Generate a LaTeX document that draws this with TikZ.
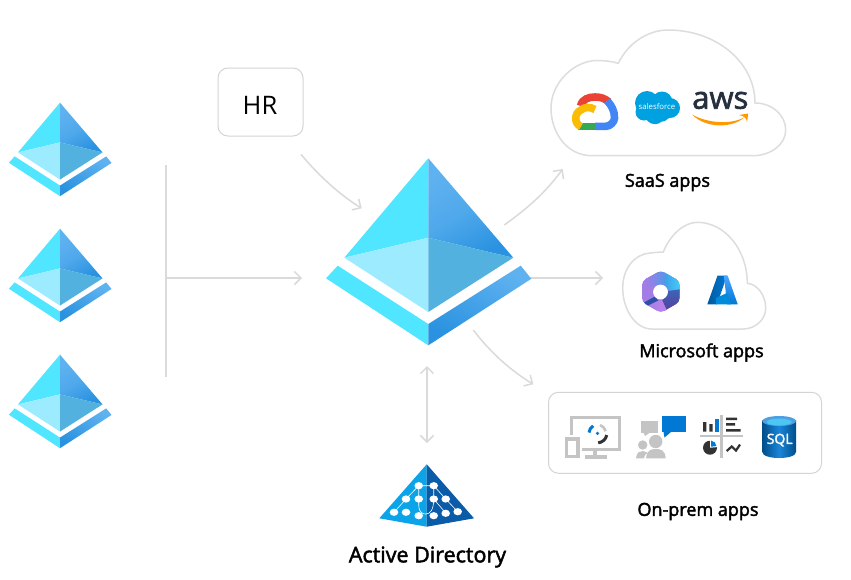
\documentclass[tikz,border=0pt]{standalone}
\usepackage{fontspec}
\setmainfont{Open Sans}
\newfontfamily\semi{Open Sans}[FakeBold=2.2]
\newfontfamily\awsfont{Open Sans}[FakeBold=2]
\usetikzlibrary{arrows.meta}
\definecolor{flow}{HTML}{DADADA}
\definecolor{edge}{HTML}{D4D4D4}
\definecolor{pyrA}{HTML}{50E6FF}
\definecolor{pyrB}{HTML}{9CEBFF}
\definecolor{pyrC}{HTML}{53B1E0}
\definecolor{pyrD}{HTML}{5FB2F0}
\definecolor{pyrE}{HTML}{2A92E0}
\definecolor{icongray}{HTML}{C4C4C4}
\definecolor{msblue}{HTML}{0078D4}
\definecolor{inkdark}{HTML}{333333}
\definecolor{gred}{HTML}{EA4335}
\definecolor{gblue}{HTML}{4285F4}
\definecolor{ggreen}{HTML}{34A853}
\definecolor{gyellow}{HTML}{FBBC05}
\definecolor{sfblue}{HTML}{00A1E0}
\definecolor{awsdark}{HTML}{252F3E}
\definecolor{awsorange}{HTML}{FF9900}
\definecolor{adleft}{HTML}{0CA4E8}
\definecolor{adright}{HTML}{0B5CA8}
\definecolor{lilac}{HTML}{A37CE6}
\definecolor{lilacB}{HTML}{C084EC}
\definecolor{violet}{HTML}{6F7BE0}
\definecolor{skyA}{HTML}{3C9FE8}
\definecolor{skyB}{HTML}{48D0F8}
\definecolor{plumA}{HTML}{3E62B8}
\definecolor{plumB}{HTML}{5B3A94}
\definecolor{bandblue}{HTML}{2C4FA8}
\tikzset{
  flowline/.style={draw=flow,line width=1.5pt},
  flowarrow/.style={flowline,-{Straight Barb[length=6.5pt,width=13pt]}},
  flowboth/.style={flowline,{Straight Barb[length=6.5pt,width=13pt]}-{Straight Barb[length=6.5pt,width=13pt]}},
  cloudline/.style={draw=edge!80,line width=1.5pt,fill=white},
  caption/.style={font=\semi\fontsize{18}{20}\selectfont,text=black,inner sep=0pt},
  rbox/.style={draw=edge,line width=1pt,rounded corners=10pt,fill=white,inner sep=0pt},
  gstroke/.style={line width=7.6pt},
}
\newcommand{\pyramid}[3]{%
  \begin{scope}[shift={(#1,#2)},scale=#3]
    \fill[pyrA] (0,0) -- (-84,99.4) -- (0,79.4) -- cycle;
    \shade[bottom color=pyrE,top color=pyrD,middle color=pyrD!70!pyrE,shading angle=30] (0,0) -- (85,99.4) -- (0,79.4) -- cycle;
    \fill[pyrB] (-84,99.4) -- (0,79.4) -- (0,153.7) -- cycle;
    \fill[pyrC] (85,99.4) -- (0,79.4) -- (0,153.7) -- cycle;
    \fill[pyrA] (-102.3,120) -- (-90.6,107.4) -- (0,165.7) -- (0,187) -- cycle;
    \shade[bottom color=pyrE,top color=pyrD,shading angle=-30] (103,120.5) -- (92.4,107.4) -- (0,165.7) -- (0,187) -- cycle;
  \end{scope}}
\begin{document}
\begin{tikzpicture}[x=1pt,y=-1pt]
\useasboundingbox (0,0) rectangle (851,579);
\fill[white] (0,0) rectangle (851,579);

% connector ends
\coordinate (busTop) at (166,165);
\coordinate (busBot) at (166,377);
\coordinate (busMid) at (166,278);
\coordinate (idIn) at (302,278);
\coordinate (hrOut) at (301,154.3);
\coordinate (idHr) at (361.7,208.3);
\coordinate (idSaas) at (504.3,225);
\coordinate (saasIn) at (562.7,169);
\coordinate (idMs) at (529.3,278);
\coordinate (msIn) at (603,278);
\coordinate (idPrem) at (473.3,330);
\coordinate (premIn) at (533.3,384.3);
\coordinate (idAd) at (427,366);
\coordinate (adIn) at (427,443);

% connectors
\draw[flowline] (busTop) -- (busBot);
\draw[flowarrow] (busMid) -- (idIn);
\draw[flowarrow] (hrOut) .. controls (318,175) and (340,195) .. (idHr);
\draw[flowarrow] (idSaas) .. controls (528,208) and (546,192) .. (saasIn);
\draw[flowarrow] (idMs) -- (msIn);
\draw[flowarrow] (idPrem) .. controls (490,352) and (510,370) .. (premIn);
\draw[flowboth] (idAd) -- (adIn);

% identity pyramids
\pyramid{60}{102.7}{0.5}
\pyramid{60}{228.7}{0.5}
\pyramid{60}{354.7}{0.5}
\pyramid{428.3}{158.3}{1}

% HR
\node[rbox,minimum width=85pt,minimum height=68pt] (hrbox) at (260.5,102) {};
\node[font=\fontsize{25.5}{28}\selectfont,inner sep=0pt] (hr) at (260,105.5) {HR};

% SaaS cloud
\draw[cloudline] (592,155.7) .. controls (567,155.7) and (551,133) .. (551,108)
  .. controls (551,82) and (575,60.5) .. (597,60.5) .. controls (605,60.5) and (612,61.5) .. (618.3,63.3)
  .. controls (628,43) and (648,30) .. (668,30) .. controls (716,30) and (755,62) .. (755,103)
  .. controls (772,103) and (785.7,115) .. (785.7,130) .. controls (785.7,145) and (770,155.7) .. (753,155.7) -- cycle;

% Google Cloud
\draw[gstroke,color=gred] (580.5,106) .. controls (582,99) and (589,97) .. (595,97) .. controls (601,97) and (605,98.5) .. (609,102);
\draw[gstroke,color=gblue] (607,100.5) .. controls (612,106) and (614.5,111) .. (614.5,118) .. controls (614.5,122) and (610,126.3) .. (606,126.3) -- (595,126.3);
\fill[ggreen] (578,122.5) rectangle (595,130);
\draw[gstroke,color=gyellow] (595,109.5) .. controls (590,106.5) and (584,107) .. (581,110) .. controls (574,113) and (574,124) .. (581,126.5);

% Salesforce
\fill[sfblue] (647,103) circle (12) (662,102) circle (10.5) (670,108) circle (10) (655,114) circle (10.2) (644,112) circle (8.5) (660,110) circle (12);
\node[font=\fontsize{7.8}{8}\selectfont,text=white,inner sep=0pt] (sf) at (657,106.5) {salesforce};

% AWS
\node[font=\awsfont\fontsize{31}{34}\selectfont,text=awsdark,inner sep=0pt,anchor=base] (aws) at (720.3,108.7) {aws};
\fill[awsorange] (692,114.5) .. controls (707,123) and (730,125) .. (744,117.5) .. controls (733,128) and (706,129) .. (692,114.5) -- cycle;
\fill[awsorange] (739,115) -- (748.3,113.5) -- (747,122) .. controls (746.5,118) and (744,116) .. (739,115) -- cycle;

\node[caption] (saas) at (667.5,182.5) {SaaS apps};

% Microsoft cloud
\draw[cloudline] (652,329) .. controls (635,329) and (622.7,309) .. (622.7,288)
  .. controls (622.7,268) and (635,254) .. (650,253) .. controls (655,252.5) and (660,252) .. (663.3,252)
  .. controls (670,235) and (684,222.3) .. (697.3,222.3) .. controls (725,222.3) and (747.3,250) .. (747.3,283.3)
  .. controls (757,284) and (765.7,295) .. (765.7,308) .. controls (765.7,320) and (755,329) .. (743,329) -- cycle;

% Microsoft 365
\begin{scope}
  \clip[rounded corners=4pt] (660.8,270.5) -- (679.6,281) -- (679.6,302) -- (660.8,312.8) -- (642,302) -- (642,281) -- cycle;
  \fill[lilac] (640,268) rectangle (682,315);
  \shade[left color=lilac,right color=skyA] (645,268) -- (672,268) -- (670,284) -- (652,286) -- (645,290) -- cycle;
  \shade[left color=skyA,right color=skyB] (668,268) -- (682,268) -- (682,294) -- (668,290) -- (664,282) -- cycle;
  \shade[top color=plumA,bottom color=plumB] (682,289) -- (682,306) -- (664,316) -- (662,301) -- (668,291) -- cycle;
  \shade[left color=lilac,right color=lilacB] (643,306) -- (662,300) -- (669,315) -- (648,316) -- cycle;
  \fill[bandblue] (643,303) -- (655,296.5) -- (658,300.5) -- (647,306) -- cycle;
\end{scope}
\fill[white] (660.5,292) circle (7.4);

% Azure
\shade[left color=msblue!75!black,right color=msblue] (717.5,275.7) -- (727,275.7) -- (717,304.3) -- (707.3,304.3) -- cycle;
\shade[bottom color=msblue,top color=cyan!50!blue!70] (724,275.7) -- (727.7,275.7) -- (737.7,304.3) -- (727,304.3) -- cycle;
\fill[msblue!85!cyan] (716,298) -- (727,293) -- (731,304.3) -- (716,304.3) -- cycle;

\node[caption] (ms) at (701.5,352.5) {Microsoft apps};

% On-prem box
\node[rbox,minimum width=273pt,minimum height=81pt] (prem) at (685,432.8) {};

% monitor icon
\draw[icongray,line width=3.3pt] (571.7,435) -- (571.7,417.3) -- (619.3,417.3) -- (619.3,449.3) -- (582,449.3);
\draw[icongray,line width=3.3pt] (595,449.3) -- (595,457) (585,457) -- (606.7,457);
\draw[icongray,line width=3.3pt] (566.5,439) rectangle (578,456.5);
\draw[msblue,line width=3pt] (589,432.5) arc (-175:-120:8.5);
\draw[inkdark,line width=3pt] (606.7,435) arc (10:85:9.5);
\draw[icongray,line width=2.6pt] (600,425) arc (-70:-15:9);
\fill[msblue] (597.5,433.3) circle (1.8);

% people icon
\fill[msblue] (661.7,415.7) rectangle (686,432.3);
\fill[msblue] (663.5,432) -- (664.5,437.5) -- (671,432) -- cycle;
\fill[icongray] (640.7,421) rectangle (658.3,432.7);
\fill[icongray] (643.5,432.5) -- (645,436) -- (650,432.5) -- cycle;
\fill[icongray] (655.7,441.5) circle (6.7);
\fill[icongray] (642.7,445) circle (4.7);
\fill[icongray] (646,458.3) .. controls (647,450) and (651,449) .. (655.7,449) .. controls (661,449) and (665,450) .. (665.7,458.3) -- cycle;
\fill[icongray] (636,458.3) .. controls (636.5,452) and (640,451) .. (643,451) .. controls (645,451) and (646,451.5) .. (647.5,452.5) .. controls (645,454) and (644.5,456) .. (644,458.3) -- cycle;

% dashboard icon
\draw[icongray,line width=2.6pt] (721.7,415) -- (721.7,457.7) (700,436) -- (743.3,436);
\fill[inkdark] (703,422) rectangle (706.3,431.7) (709.3,424) rectangle (712.6,431.7);
\fill[msblue] (715.3,418.5) rectangle (718.6,431.7);
\fill[inkdark] (726,417.5) rectangle (737,420) (726,423) rectangle (735,425.5) (726,429.2) rectangle (740.7,431.7);
\fill[inkdark] (710,447.7) circle (7);
\fill[white] (710,447.7) -- (710,439.5) -- (718.5,439.5) -- (718.5,447) -- cycle;
\fill[msblue] (711,446.7) -- (711,440.6) arc (-85:-5:6) -- cycle;
\draw[inkdark,line width=2.2pt] (726.7,451) -- (731.7,446.5) -- (736,450.5) -- (740,444.5);

% SQL icon
\shade[left color=msblue!65!black,right color=msblue!65!black,middle color=msblue!90!white] (762.3,420) -- (762.3,452) .. controls (762.3,460) and (796,460) .. (796,452) -- (796,420) -- cycle;
\fill[msblue!70!white] (779.2,421) ellipse (16.9 and 5);
\fill[cyan!70!white] (779.2,422) ellipse (12.5 and 3.4);
\node[font=\semi\fontsize{14}{15}\selectfont,text=white,inner sep=0pt] (sql) at (779.7,440) {SQL};

\node[caption] (onprem) at (698,511.5) {On-prem apps};

% Active Directory icon
\fill[adleft] (426.7,464.3) -- (379.3,518.3) -- (426.7,526.7) -- cycle;
\fill[adright] (426.7,464.3) -- (474,518.3) -- (426.7,526.7) -- cycle;
\draw[white,line width=.6pt] (394,512.3) -- (406,499) -- (418.7,485.7) -- (433.7,485.7) -- (445.7,499) -- (457.7,511.7)
  (418.7,499) -- (418.7,505) .. controls (419,514) and (424,514) .. (426,514) .. controls (430,514) and (433.7,510) .. (433.7,499)
  (418.7,485.7) -- (418.7,499) (433.7,485.7) -- (433.7,499)
  (433.7,499) -- (445.7,513);
\foreach \a/\b in {418.7/485.7,433.7/485.7,406/499,418.7/499,433.7/499,445.7/499,394/512.3,406/512.3,418.7/515.7,433.7/515.7,445.7/513.3,457.7/511.7}
  \fill[white] (\a,\b) ellipse (4.3 and 3.6);

\node[caption,font=\semi\fontsize{21.5}{23}\selectfont] (ad) at (427.5,557) {Active Directory};
\end{tikzpicture}
\end{document}
